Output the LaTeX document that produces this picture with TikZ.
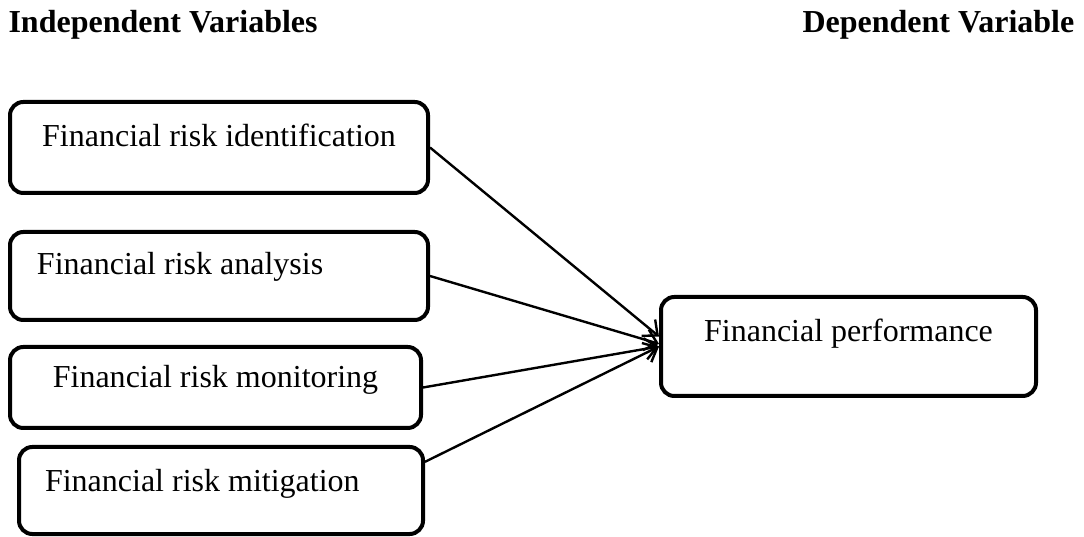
\documentclass[tikz,border=0pt]{standalone}
\usepackage{fontspec}
\setmainfont{Liberation Serif}
\usetikzlibrary{positioning,arrows.meta}

\begin{document}
\begin{tikzpicture}[x=0.375pt, y=-0.375pt,
    every node/.style = {font=\fontsize{12pt}{14pt}\selectfont},
    VarBox/.style = {draw, line width=1.5pt, rounded corners=5pt,
        inner ysep=0pt, anchor=north west},
    LeftText/.style = {align=flush left, inner xsep=#1},
    Head/.style = {inner sep=0pt, anchor=base west,
        font=\fontsize{12pt}{14pt}\selectfont\bfseries},
    Arrow/.style = {line width=0.9pt, -{Straight Barb[length=4.5pt,width=8pt]}}]
      \useasboundingbox (0,0) rectangle (1084,537);
      \node[Head] (indep) at (8,33) {Independent Variables};
      \node[Head] (dep) at (802,33) {Dependent Variable};
      \node[VarBox, minimum width=156.75pt, text height=16.875pt, text depth=17.25pt]
          (fri) at (8,100) {Financial risk identification};
      \node[VarBox, below=13.125pt of fri.south west, anchor=north west,
          LeftText=10.125pt, text width=136.5pt, text height=16.125pt, text depth=16.875pt]
          (fra) {Financial risk analysis};
      \node[VarBox, below=8.625pt of fra.south west, anchor=north west,
          minimum width=154.125pt, text height=15.375pt, text depth=15pt]
          (frmo) {Financial risk monitoring};
      \node[VarBox, below=5.625pt of frmo.south west, anchor=north west, xshift=3.375pt,
          LeftText=9.75pt, text width=132pt, text height=16.875pt, text depth=15.75pt]
          (frmi) {Financial risk mitigation};
      \node[VarBox, minimum width=140.625pt, text height=16.875pt, text depth=20.25pt]
          (fp) at (659,295) {Financial performance};
      \draw[Arrow] (fri.east) -- ([yshift=3.75pt]fp.west);
      \draw[Arrow] (fra.east) -- ([yshift=1pt]fp.west);
      \draw[Arrow] (frmo.east) -- (fp.west);
      \draw[Arrow] (frmi.8) -- (fp.west);
\end{tikzpicture}
\end{document}
